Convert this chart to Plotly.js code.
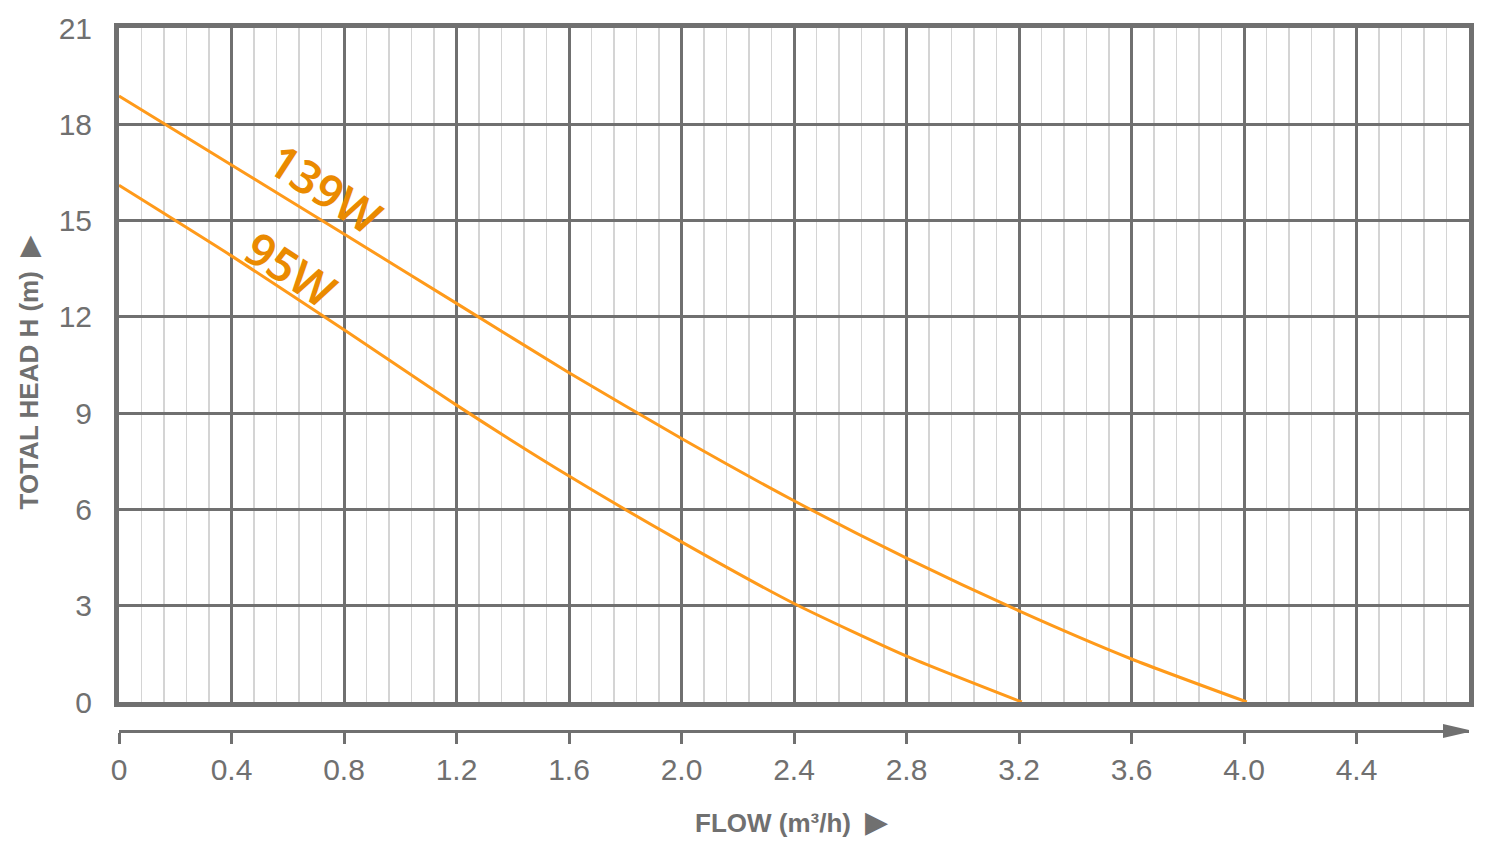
<!DOCTYPE html>
<html>
<head>
<meta charset="utf-8">
<script src="https://cdn.plot.ly/plotly-3.0.1.min.js"></script>
<style>
  html, body { margin: 0; padding: 0; background: #ffffff; }
  #chart { width: 1500px; height: 850px; }
</style>
</head>
<body>
<div id="chart"></div>
<script>
// pump curves: flow (m3/h) vs head (m)
var flow139 = [0, 0.4, 0.8, 1.2, 1.6, 2.0, 2.4, 2.8, 3.2, 3.6, 4.01];
var head139 = [18.88, 16.73, 14.58, 12.42, 10.26, 8.21, 6.27, 4.48, 2.84, 1.34, 0];
var flow95 = [0, 0.4, 0.8, 1.2, 1.6, 2.0, 2.4, 2.8, 3.21];
var head95 = [16.1, 13.9, 11.6, 9.25, 7.04, 4.99, 3.07, 1.43, 0];

var xTickVals = [0, 0.4, 0.8, 1.2, 1.6, 2.0, 2.4, 2.8, 3.2, 3.6, 4.0, 4.4];
var xTickText = ['0', '0.4', '0.8', '1.2', '1.6', '2.0', '2.4', '2.8', '3.2', '3.6', '4.0', '4.4'];
var yTickVals = [0, 3, 6, 9, 12, 15, 18, 21];

var curveLabels = [
    {text: '139W', x: 0.735, y: 16.0},
    {text: '95W', x: 0.615, y: 13.5}
];

var grey = '#707070';
var curveColor = '#FF9A1A';
var labelColor = '#EA8A00';
var fontFam = 'Liberation Sans, Arial, sans-serif';

var traces = [
    {
        x: flow139, y: head139, type: 'scatter', mode: 'lines',
        line: {color: curveColor, width: 3, shape: 'spline', smoothing: 0.6},
        hoverinfo: 'skip'
    },
    {
        x: flow95, y: head95, type: 'scatter', mode: 'lines',
        line: {color: curveColor, width: 3, shape: 'spline', smoothing: 0.6},
        hoverinfo: 'skip'
    },
    // invisible copy so the lower (labelled) axis gets drawn
    {
        x: flow95, y: head95, xaxis: 'x2', type: 'scatter', mode: 'lines',
        line: {color: 'rgba(0,0,0,0)', width: 0},
        hoverinfo: 'skip'
    }
];

var annotations = curveLabels.map(function(l) {
    return {
        text: l.text, x: l.x, y: l.y, xref: 'x', yref: 'y',
        showarrow: false, textangle: 33,
        font: {family: 'Noto Sans, sans-serif', size: 46, color: labelColor, weight: 600}
    };
});

annotations.push({
    text: '<b>TOTAL HEAD H (m)</b>  <span style="font-size:28px">\u25B6</span>',
    xref: 'paper', yref: 'paper', x: -0.0674, y: 0.51,
    xanchor: 'center', yanchor: 'middle', textangle: -90, showarrow: false,
    font: {family: fontFam, size: 26, color: grey}
});
annotations.push({
    text: '<b>FLOW (m\u00B3/h)</b>  <span style="font-size:30px">\u25B6</span>',
    xref: 'paper', yref: 'paper', x: 0.4985, y: -0.129,
    xanchor: 'center', yanchor: 'middle', showarrow: false,
    font: {family: fontFam, size: 26, color: grey}
});

var layout = {
    width: 1500,
    height: 850,
    margin: {l: 119, r: 31, t: 28, b: 119},
    paper_bgcolor: '#ffffff',
    plot_bgcolor: '#ffffff',
    showlegend: false,
    xaxis: {
        range: [0, 4.8],
        tick0: 0,
        dtick: 0.4,
        showticklabels: false,
        ticks: '',
        showgrid: true,
        gridcolor: grey,
        gridwidth: 3,
        minor: {dtick: 0.08, tick0: 0, showgrid: true, gridcolor: '#d4d4d4', gridwidth: 1.5},
        zeroline: false,
        showline: true,
        mirror: true,
        linecolor: grey,
        linewidth: 5
    },
    xaxis2: {
        range: [0, 4.8],
        overlaying: 'x',
        anchor: 'free',
        position: 0,
        tickmode: 'array',
        tickvals: xTickVals,
        ticktext: xTickText,
        ticks: 'outside',
        ticklen: 11,
        tickwidth: 3,
        tickcolor: grey,
        ticklabelstandoff: 0,
        showgrid: false,
        zeroline: false,
        showline: true,
        linecolor: grey,
        linewidth: 3,
        tickfont: {family: fontFam, size: 30, color: grey}
    },
    yaxis: {
        range: [0, 21],
        domain: [29 / 703, 1],
        tickmode: 'array',
        tickvals: yTickVals,
        ticks: '',
        ticklabelstandoff: 16,
        showgrid: true,
        gridcolor: grey,
        gridwidth: 3,
        zeroline: false,
        showline: true,
        mirror: true,
        linecolor: grey,
        linewidth: 5,
        tickfont: {family: fontFam, size: 30, color: grey}
    },
    shapes: [
        {
            type: 'path', xref: 'x2', yref: 'paper',
            xsizemode: 'pixel', ysizemode: 'pixel',
            xanchor: 4.8, yanchor: 0,
            path: 'M4,0 L-26,7 L-26,-7 Z',
            fillcolor: grey, line: {width: 0}
        }
    ],
    annotations: annotations
};

Plotly.newPlot('chart', traces, layout, {staticPlot: true});
</script>
</body>
</html>
